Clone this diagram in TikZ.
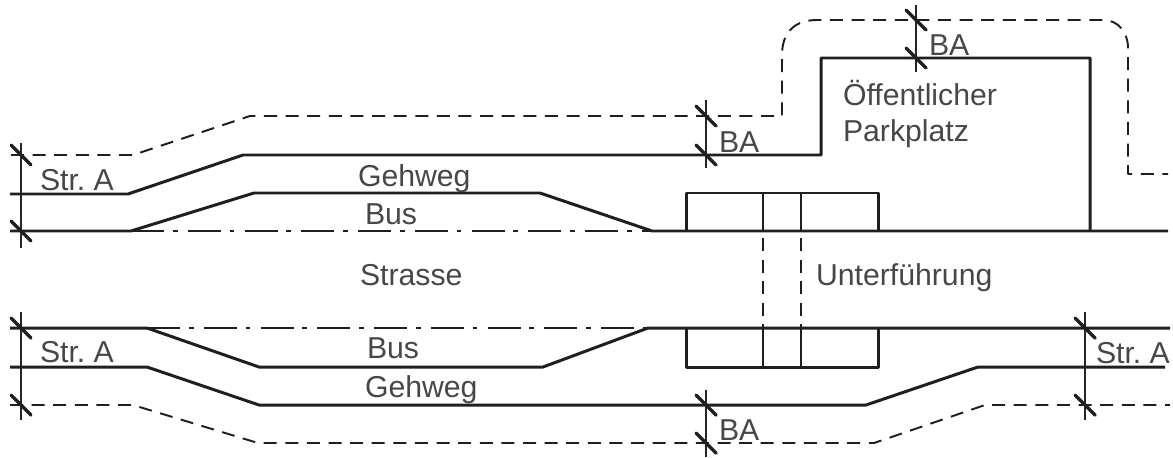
\documentclass[tikz,border=0pt]{standalone}
\usepackage{fontspec}
\setmainfont{Liberation Sans}

\tikzset{
    kante/.style={line width=1.7pt, black!88},
    grenze/.style={line width=1.1pt, black!88, dash pattern=on 7.4pt off 4.9pt},
    mitte/.style={line width=1.1pt, black!88, dash pattern=on 18.8pt off 5pt on 2.8pt off 5.7pt},
    hilfslinie/.style={line width=0.6pt, black!85},
    strich/.style={line width=2pt, black!88, line cap=round},
    schrift/.style={anchor=base west, inner sep=0pt, outer sep=0pt, text=black!72, font=\fontsize{17.2pt}{20pt}\selectfont},
}

\begin{document}
\begin{tikzpicture}[x=0.02cm, y=-0.02cm, line join=round]
    \useasboundingbox (0,0) rectangle (1173,457);

    % obere Seite
    \draw[kante] (10,194)--(128,194)--(243,155)--(821,155)--(821,58)--(1090,58)--(1090,231);
    \draw[kante] (10,231)--(131,231)--(254,193)--(540,193)--(652,231)--(1168,231);
    \draw[mitte] (131,231)--(652,231);
    \draw[grenze] (11,155)--(133,155)--(250,116)--(782,116)--(782,55)
        .. controls (782,32) and (795,20) .. (817,20) --(1103,20)
        .. controls (1118,20) and (1128,32) .. (1128,48) --(1128,174)--(1168,174);

    % untere Seite
    \draw[kante] (10,328)--(147,328)--(259,367)--(543,367)--(648,328)--(1170,328);
    \draw[mitte] (147,328)--(648,328);
    \draw[kante] (10,367)--(147,367)--(259,405)--(866,405)--(978,367)--(1165,367);
    \draw[grenze] (10,405)--(133,405)--(258,443)--(874,443)--(985,405)--(1170,405);

    % Unterfuehrung
    \draw[kante] (686,231)--(686,193)--(878,193)--(878,231);
    \draw[kante] (686,328)--(686,367)--(878,367)--(878,328);
    \foreach \x in {763,801}
    {
        \draw[kante, line width=1.2pt] (\x,193)--(\x,231);
        \draw[kante, line width=1.2pt] (\x,328)--(\x,367);
        \draw[grenze] (\x,238)--(\x,328);
    }

    % Masslinien
    \foreach \x/\a/\b in {21/143/248, 21/312/420, 1085/312/420, 706/100/168, 706/390/457, 916/5/72}
        \draw[hilfslinie] (\x,\a)--(\x,\b);
    \foreach \x/\y in {21/155, 21/231, 21/328, 21/405, 1085/328, 1085/405, 706/116, 706/155, 706/405, 706/443, 916/20, 916/58}
        \draw[strich] (\x-10,\y-10)--(\x+10,\y+10);

    \node[schrift] (strobenlinks) at (40,190) {Str.\ A};
    \node[schrift] (struntenlinks) at (40,362) {Str.\ A};
    \node[schrift] (struntenrechts) at (1096,363) {Str.\ A};
    \node[schrift] (baoben) at (929,55) {BA};
    \node[schrift] (bamitte) at (719,152) {BA};
    \node[schrift] (baunten) at (719,440) {BA};
    \node[schrift] (gehwegoben) at (358,186) {Gehweg};
    \node[schrift] (busoben) at (365,224) {Bus};
    \node[schrift] (strasse) at (360,285) {Strasse};
    \node[schrift] (unterfuehrung) at (816,285) {Unterführung};
    \node[schrift] (busunten) at (367,358) {Bus};
    \node[schrift] (gehwegunten) at (365,397) {Gehweg};
    \node[schrift] (oeffentlicher) at (843,105) {Öffentlicher};
    \node[schrift] (parkplatz) at (843,141) {Parkplatz};
\end{tikzpicture}
\end{document}
